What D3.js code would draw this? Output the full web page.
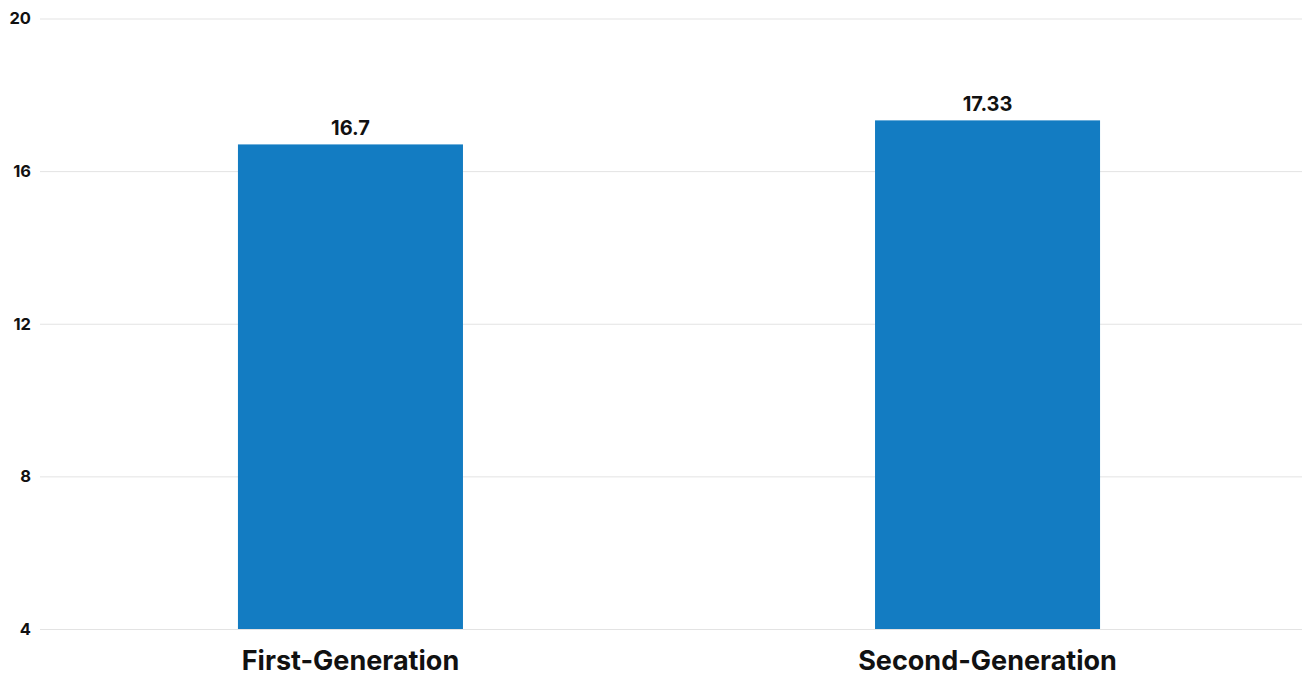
<!DOCTYPE html>
<html>
<head>
<meta charset="utf-8">
<script src="https://cdn.jsdelivr.net/npm/d3@7"></script>
<style>
  html, body { margin: 0; padding: 0; background: #fff; }
  svg { display: block; font-family: Inter, "Open Sans", sans-serif; }
</style>
</head>
<body>
<svg id="chart" width="1302" height="677"></svg>
<script>
const categories = ["First-Generation", "Second-Generation"];
const values = [16.7, 17.33];
const yTicks = [4, 8, 12, 16, 20];

const W = 1302, H = 677;
const margin = { top: 18.5, right: 0, bottom: 48, left: 40 };
const svg = d3.select("#chart");

const x = d3.scaleBand()
  .domain(categories)
  .range([36, W])
  .paddingInner(0.6468)
  .paddingOuter(0.317);

const y = d3.scaleLinear()
  .domain([4, 20])
  .range([H - margin.bottom, margin.top]);

// gridlines
const yAxis = d3.axisLeft(y)
  .tickValues(yTicks)
  .tickSize(-(W - margin.left))
  .tickPadding(9)
  .tickFormat(d3.format("d"));

const gy = svg.append("g")
  .attr("transform", `translate(${margin.left},0)`)
  .call(yAxis);
gy.select(".domain").remove();
gy.selectAll(".tick line").attr("stroke", "#e3e3e3").attr("stroke-width", 1);
gy.selectAll(".tick text")
  .attr("fill", "#111")
  .attr("font-size", 16.5)
  .attr("font-weight", 700)
  .attr("font-family", "Inter, 'Open Sans', sans-serif");

// bars
svg.append("g").selectAll("rect")
  .data(categories)
  .join("rect")
  .attr("x", d => x(d))
  .attr("width", x.bandwidth())
  .attr("y", (d, i) => y(values[i]))
  .attr("height", (d, i) => y(4) - y(values[i]))
  .attr("fill", "#137cc2");

// value labels
svg.append("g").selectAll("text")
  .data(categories)
  .join("text")
  .attr("x", d => x(d) + x.bandwidth() / 2)
  .attr("y", (d, i) => y(values[i]) - 9)
  .attr("text-anchor", "middle")
  .attr("font-size", 20)
  .attr("font-weight", 700)
  .attr("fill", "#111")
  .text((d, i) => values[i]);

// category labels
const xAxis = d3.axisBottom(x).tickSize(0).tickPadding(22);
const gx = svg.append("g")
  .attr("transform", `translate(0,${y(4)})`)
  .call(xAxis);
gx.select(".domain").remove();
gx.selectAll(".tick text")
  .attr("fill", "#111")
  .attr("font-size", 27)
  .attr("font-weight", 700)
  .attr("font-family", "Inter, 'Open Sans', sans-serif");
</script>
</body>
</html>
